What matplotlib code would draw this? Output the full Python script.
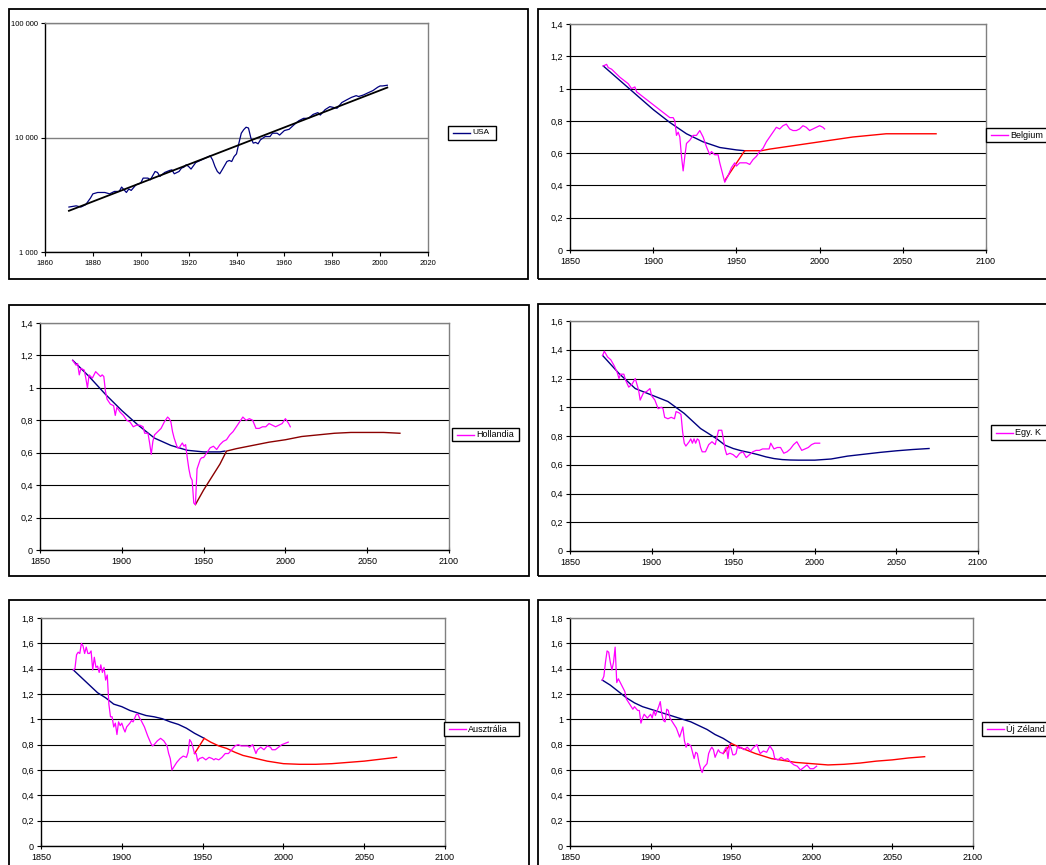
import matplotlib
matplotlib.use("Agg")
import matplotlib.pyplot as plt
from matplotlib.patches import Rectangle
from matplotlib.lines import Line2D
from matplotlib.ticker import FuncFormatter, FixedLocator

plt.rcParams['font.family'] = ['Liberation Sans', 'DejaVu Sans']

W, H = 1046, 865

# ---------------- DATA ----------------
# USA (log scale GDP per capita)
usa_years = [1870, 1873, 1875, 1877, 1879, 1880, 1882, 1885, 1887, 1889, 1891, 1892, 1894, 1895, 1896,
             1898, 1900, 1901, 1903, 1904, 1906, 1907, 1908, 1910, 1912, 1913, 1914, 1916, 1917, 1918,
             1919, 1920, 1921, 1923, 1926, 1929, 1930, 1931, 1932, 1933, 1934, 1936, 1937, 1938, 1939,
             1940, 1941, 1942, 1943, 1944, 1945, 1946, 1947, 1948, 1949, 1950, 1952, 1954, 1955, 1957,
             1958, 1960, 1962, 1964, 1966, 1968, 1970, 1972, 1974, 1975, 1977, 1979, 1980, 1982, 1984,
             1986, 1988, 1990, 1991, 1993, 1995, 1997, 1999, 2000, 2001, 2003]
usa_values = [2470, 2530, 2470, 2590, 2960, 3220, 3310, 3310, 3220, 3380, 3380, 3690, 3310, 3550, 3450,
              3860, 4000, 4420, 4420, 4270, 5050, 4950, 4570, 4950, 5150, 5220, 4820, 5050, 5400, 5500,
              5780, 5580, 5300, 6050, 6460, 6920, 6380, 5580, 5050, 4820, 5220, 6170, 6300, 6170, 6820,
              7200, 8930, 10900, 11700, 12300, 12100, 9900, 8930, 9060, 8810, 9540, 10200, 10200, 10900, 10900,
              10500, 11500, 11800, 12900, 14000, 14700, 14700, 15900, 16500, 15700, 17500, 18600, 18400, 18000, 20200,
              21300, 22400, 23200, 22800, 23500, 24600, 25700, 27500, 28200, 28200, 28600]
usa_trend_years = [1870, 2003]
usa_trend_values = [2290, 27300]

# Belgium
bel_years = [1870, 1872, 1873, 1875, 1880, 1885, 1887, 1889, 1890, 1895, 1900, 1905, 1910, 1912, 1913,
             1914, 1915, 1916, 1917, 1918, 1919, 1920, 1922, 1924, 1926, 1928, 1930, 1932, 1934, 1935,
             1937, 1939, 1940, 1942, 1943, 1945, 1947, 1949, 1950, 1952, 1954, 1956, 1958, 1960, 1962,
             1964, 1966, 1968, 1970, 1972, 1974, 1976, 1978, 1980, 1982, 1984, 1986, 1988, 1990, 1992,
             1994, 1996, 1998, 2000, 2002, 2003]
bel_values = [1.14, 1.15, 1.13, 1.12, 1.07, 1.03, 1.00, 1.01, 0.98, 0.94, 0.90, 0.86, 0.82, 0.82, 0.80,
              0.71, 0.73, 0.70, 0.58, 0.49, 0.58, 0.66, 0.68, 0.71, 0.71, 0.74, 0.70, 0.64, 0.59, 0.61,
              0.59, 0.59, 0.54, 0.46, 0.42, 0.46, 0.51, 0.54, 0.52, 0.54, 0.54, 0.54, 0.53, 0.56, 0.58,
              0.61, 0.63, 0.67, 0.70, 0.73, 0.76, 0.75, 0.77, 0.78, 0.75, 0.74, 0.74, 0.75, 0.77, 0.76,
              0.74, 0.75, 0.76, 0.77, 0.76, 0.75]
bel_trend_years = [1870, 1880, 1890, 1900, 1910, 1920, 1930, 1940, 1950, 1955]
bel_trend_values = [1.14, 1.05, 0.96, 0.87, 0.79, 0.72, 0.67, 0.635, 0.62, 0.615]
bel_proj_years = [1943, 1955, 1965, 1970, 1980, 1990, 2000, 2010, 2020, 2030, 2040, 2050, 2060, 2070]
bel_proj_values = [0.43, 0.615, 0.615, 0.625, 0.64, 0.655, 0.67, 0.685, 0.70, 0.71, 0.72, 0.72, 0.72, 0.72]

# Hollandia
nl_years = [1870, 1872, 1873, 1874, 1875, 1877, 1878, 1879, 1880, 1882, 1884, 1886, 1887, 1888, 1889,
            1890, 1891, 1893, 1895, 1896, 1897, 1899, 1901, 1903, 1905, 1907, 1909, 1911, 1913, 1914,
            1916, 1917, 1918, 1919, 1920, 1922, 1924, 1926, 1928, 1929, 1930, 1931, 1932, 1934, 1935,
            1937, 1938, 1939, 1940, 1941, 1942, 1943, 1944, 1945, 1946, 1947, 1948, 1949, 1950, 1952,
            1954, 1956, 1958, 1960, 1962, 1964, 1966, 1968, 1970, 1972, 1974, 1976, 1978, 1980, 1982,
            1984, 1986, 1988, 1990, 1992, 1994, 1996, 1998, 2000, 2002, 2003]
nl_values = [1.17, 1.14, 1.15, 1.08, 1.12, 1.11, 1.06, 1.00, 1.08, 1.06, 1.10, 1.08, 1.07, 1.08, 1.07,
             0.98, 0.93, 0.90, 0.89, 0.83, 0.88, 0.85, 0.83, 0.80, 0.79, 0.76, 0.77, 0.77, 0.76, 0.72,
             0.72, 0.66, 0.59, 0.67, 0.71, 0.73, 0.75, 0.79, 0.82, 0.81, 0.79, 0.73, 0.69, 0.63, 0.63,
             0.66, 0.64, 0.65, 0.57, 0.50, 0.45, 0.43, 0.29, 0.28, 0.50, 0.53, 0.56, 0.57, 0.57, 0.60,
             0.63, 0.64, 0.62, 0.65, 0.67, 0.68, 0.71, 0.73, 0.76, 0.79, 0.82, 0.80, 0.81, 0.80, 0.75,
             0.75, 0.76, 0.76, 0.78, 0.77, 0.76, 0.77, 0.78, 0.81, 0.78, 0.76]
nl_trend_years = [1870, 1880, 1890, 1900, 1910, 1920, 1930, 1940, 1950, 1960, 1963]
nl_trend_values = [1.17, 1.07, 0.96, 0.86, 0.77, 0.69, 0.645, 0.615, 0.605, 0.605, 0.61]
nl_proj_years = [1945, 1950, 1955, 1960, 1964, 1970, 1980, 1990, 2000, 2010, 2020, 2030, 2040, 2050, 2060, 2070]
nl_proj_values = [0.28, 0.37, 0.45, 0.53, 0.61, 0.625, 0.645, 0.665, 0.68, 0.70, 0.71, 0.72, 0.725, 0.725, 0.725, 0.72]

# Egyesült Királyság
uk_years = [1870, 1871, 1873, 1875, 1877, 1879, 1880, 1881, 1883, 1884, 1886, 1888, 1890, 1892, 1893,
            1895, 1897, 1899, 1900, 1902, 1904, 1906, 1907, 1908, 1910, 1912, 1914, 1915, 1917, 1918,
            1919, 1920, 1921, 1923, 1924, 1925, 1926, 1927, 1928, 1929, 1930, 1931, 1933, 1935, 1937,
            1939, 1941, 1943, 1944, 1945, 1946, 1948, 1950, 1952, 1954, 1956, 1958, 1960, 1962, 1964,
            1966, 1968, 1970, 1972, 1973, 1975, 1977, 1979, 1981, 1983, 1985, 1987, 1989, 1991, 1992,
            1994, 1996, 1998, 2000, 2002, 2003]
uk_values = [1.36, 1.39, 1.35, 1.33, 1.29, 1.24, 1.20, 1.23, 1.23, 1.19, 1.14, 1.16, 1.20, 1.12, 1.05,
             1.10, 1.11, 1.13, 1.08, 1.05, 0.99, 1.00, 0.99, 0.93, 0.92, 0.93, 0.92, 0.97, 0.96, 0.95,
             0.83, 0.75, 0.73, 0.76, 0.78, 0.75, 0.78, 0.75, 0.78, 0.77, 0.72, 0.69, 0.69, 0.74, 0.76,
             0.74, 0.84, 0.84, 0.78, 0.71, 0.67, 0.68, 0.67, 0.65, 0.68, 0.69, 0.65, 0.67, 0.69, 0.70,
             0.70, 0.71, 0.71, 0.71, 0.75, 0.71, 0.72, 0.72, 0.68, 0.69, 0.71, 0.74, 0.76, 0.72, 0.70,
             0.71, 0.72, 0.74, 0.75, 0.75, 0.75]
uk_trend_years = [1870, 1880, 1890, 1900, 1910, 1920, 1930, 1940, 1945, 1950, 1955, 1960, 1965, 1970,
                  1975, 1980, 1985, 1990, 2000, 2010, 2020, 2030, 2040, 2050, 2060, 2070]
uk_trend_values = [1.36, 1.235, 1.13, 1.085, 1.04, 0.957, 0.852, 0.78, 0.736, 0.713, 0.697, 0.685, 0.671, 0.655,
                   0.643, 0.636, 0.633, 0.632, 0.632, 0.64, 0.66, 0.673, 0.686, 0.697, 0.706, 0.713]

# Ausztrália
au_years = [1870, 1871, 1872, 1873, 1874, 1875, 1876, 1877, 1878, 1879, 1880, 1881, 1882, 1883, 1884,
            1885, 1886, 1887, 1888, 1889, 1890, 1891, 1892, 1893, 1894, 1895, 1896, 1897, 1898, 1899,
            1900, 1901, 1902, 1903, 1905, 1906, 1907, 1908, 1909, 1910, 1911, 1912, 1914, 1916, 1918,
            1919, 1920, 1922, 1924, 1926, 1928, 1929, 1930, 1931, 1932, 1934, 1936, 1938, 1940, 1941,
            1942, 1943, 1944, 1945, 1946, 1947, 1948, 1950, 1952, 1954, 1956, 1957, 1958, 1960, 1962,
            1964, 1966, 1968, 1970, 1972, 1974, 1976, 1978, 1979, 1981, 1983, 1984, 1986, 1988, 1990,
            1992, 1993, 1995, 1997, 1999, 2001, 2003]
au_values = [1.39, 1.40, 1.51, 1.53, 1.52, 1.60, 1.58, 1.52, 1.57, 1.52, 1.52, 1.54, 1.39, 1.49, 1.41,
             1.42, 1.37, 1.43, 1.37, 1.41, 1.31, 1.35, 1.12, 1.02, 1.02, 0.94, 0.97, 0.88, 0.98, 0.95,
             0.97, 0.93, 0.90, 0.94, 0.97, 0.99, 0.98, 1.01, 1.04, 1.04, 1.01, 0.99, 0.94, 0.87, 0.81,
             0.79, 0.80, 0.83, 0.85, 0.83, 0.79, 0.73, 0.69, 0.60, 0.62, 0.66, 0.69, 0.71, 0.70, 0.74,
             0.84, 0.82, 0.78, 0.73, 0.73, 0.67, 0.69, 0.70, 0.68, 0.70, 0.69, 0.68, 0.69, 0.68, 0.70,
             0.73, 0.73, 0.76, 0.79, 0.80, 0.79, 0.79, 0.79, 0.78, 0.80, 0.73, 0.76, 0.78, 0.76, 0.79,
             0.78, 0.76, 0.76, 0.78, 0.80, 0.81, 0.82]
au_trend_years = [1870, 1875, 1880, 1885, 1890, 1895, 1900, 1905, 1910, 1915, 1920, 1925, 1930, 1935,
                  1940, 1945, 1951]
au_trend_values = [1.39, 1.33, 1.27, 1.21, 1.17, 1.12, 1.10, 1.07, 1.05, 1.03, 1.02, 1.005, 0.98, 0.96,
                   0.93, 0.89, 0.85]
au_proj_years = [1945, 1951, 1955, 1960, 1965, 1970, 1975, 1980, 1985, 1990, 1995, 2000, 2010, 2020,
                 2030, 2040, 2050, 2060, 2070]
au_proj_values = [0.73, 0.85, 0.82, 0.79, 0.77, 0.74, 0.715, 0.70, 0.685, 0.67, 0.66, 0.65, 0.645, 0.645,
                  0.65, 0.66, 0.67, 0.685, 0.70]

# Új Zéland
nz_years = [1870, 1871, 1872, 1873, 1874, 1875, 1876, 1877, 1878, 1879, 1880, 1882, 1884, 1885, 1887,
            1889, 1890, 1892, 1893, 1894, 1895, 1896, 1898, 1900, 1901, 1902, 1903, 1905, 1906, 1907,
            1908, 1909, 1910, 1911, 1912, 1914, 1916, 1918, 1919, 1920, 1921, 1922, 1923, 1925, 1926,
            1927, 1928, 1929, 1930, 1931, 1932, 1933, 1935, 1936, 1937, 1938, 1939, 1940, 1941, 1942,
            1943, 1945, 1946, 1947, 1948, 1949, 1950, 1951, 1952, 1953, 1954, 1955, 1956, 1958, 1960,
            1962, 1964, 1966, 1967, 1968, 1970, 1972, 1974, 1976, 1977, 1979, 1981, 1983, 1985, 1987,
            1989, 1991, 1993, 1995, 1997, 1999, 2001, 2003]
nz_values = [1.31, 1.34, 1.45, 1.54, 1.53, 1.45, 1.39, 1.45, 1.57, 1.29, 1.32, 1.27, 1.22, 1.16, 1.12,
             1.08, 1.10, 1.07, 1.07, 0.97, 1.01, 1.04, 1.01, 1.04, 1.01, 1.07, 1.03, 1.10, 1.14, 1.04,
             0.99, 0.98, 1.08, 1.07, 1.01, 0.97, 0.93, 0.86, 0.90, 0.94, 0.83, 0.78, 0.81, 0.79, 0.74,
             0.69, 0.74, 0.73, 0.66, 0.61, 0.58, 0.62, 0.65, 0.73, 0.76, 0.78, 0.76, 0.70, 0.73, 0.76,
             0.74, 0.73, 0.76, 0.78, 0.69, 0.80, 0.77, 0.72, 0.72, 0.73, 0.79, 0.77, 0.78, 0.76, 0.78,
             0.75, 0.78, 0.80, 0.76, 0.73, 0.75, 0.74, 0.79, 0.75, 0.69, 0.68, 0.70, 0.68, 0.69, 0.66,
             0.64, 0.63, 0.60, 0.62, 0.64, 0.61, 0.61, 0.63]
nz_trend_years = [1870, 1875, 1880, 1885, 1890, 1895, 1900, 1905, 1910, 1915, 1920, 1925, 1930, 1935,
                  1940, 1945, 1950]
nz_trend_values = [1.31, 1.27, 1.22, 1.17, 1.13, 1.10, 1.08, 1.06, 1.04, 1.02, 1.00, 0.98, 0.95, 0.92,
                   0.88, 0.85, 0.81]
nz_proj_years = [1945, 1950, 1955, 1960, 1965, 1970, 1975, 1980, 1985, 1990, 1995, 2000, 2010, 2020,
                 2030, 2040, 2050, 2060, 2070]
nz_proj_values = [0.73, 0.81, 0.78, 0.755, 0.73, 0.71, 0.69, 0.68, 0.67, 0.66, 0.655, 0.65, 0.64, 0.645,
                  0.655, 0.67, 0.68, 0.695, 0.705]

PINK = '#FF00FF'
NAVY = '#000080'
RED = '#FF0000'
MAROON = '#8B0000'

fig = plt.figure(figsize=(W / 100, H / 100), dpi=100)
fig.patch.set_facecolor('white')


def frame(x0, y0, x1, y1):
    fig.patches.append(Rectangle((x0 / W, 1 - y1 / H), (x1 - x0) / W, (y1 - y0) / H,
                                 transform=fig.transFigure, fill=False, edgecolor='black',
                                 linewidth=1.3, clip_on=False))


def legend_box(x0, y0, x1, y1, color, label, fs):
    fig.patches.append(Rectangle((x0 / W, 1 - y1 / H), (x1 - x0) / W, (y1 - y0) / H,
                                 transform=fig.transFigure, facecolor='white', edgecolor='black',
                                 linewidth=1.0, clip_on=False))
    ym = 1 - (y0 + y1) / 2 / H
    fig.lines.append(Line2D([(x0 + 5) / W, (x0 + 22) / W], [ym, ym], transform=fig.transFigure,
                            color=color, linewidth=1.0))
    fig.text((x0 + 24) / W, ym, label, fontsize=fs, va='center', ha='left')


def make_axes(x0, y0, x1, y1):
    ax = fig.add_axes([x0 / W, 1 - y1 / H, (x1 - x0) / W, (y1 - y0) / H])
    ax.set_facecolor('white')
    for s in ['top', 'right']:
        ax.spines[s].set_color('#808080')
        ax.spines[s].set_linewidth(1.0)
    for s in ['left', 'bottom']:
        ax.spines[s].set_color('black')
        ax.spines[s].set_linewidth(1.0)
    return ax


comma = FuncFormatter(lambda v, p: ('%g' % round(v, 1)).replace('.', ','))


def lin_panel(box, ymax, fs):
    ax = make_axes(*box)
    ax.set_xlim(1850, 2100)
    ax.set_ylim(0, ymax)
    ax.xaxis.set_major_locator(FixedLocator(list(range(1850, 2101, 50))))
    ax.yaxis.set_major_locator(FixedLocator([round(i * 0.2, 1) for i in range(int(round(ymax / 0.2)) + 1)]))
    ax.yaxis.set_major_formatter(comma)
    ax.grid(axis='y', color='black', linewidth=0.8)
    ax.set_axisbelow(True)
    ax.tick_params(axis='y', direction='out', length=3, width=0.8, labelsize=fs, pad=2)
    ax.tick_params(axis='x', direction='inout', length=4, width=0.8, labelsize=fs, pad=3)
    return ax


# ---- Panel 1: USA ----
frame(9, 9, 528, 279)
ax1 = make_axes(45, 23, 428, 252)
ax1.set_yscale('log')
ax1.set_xlim(1860, 2020)
ax1.set_ylim(1000, 100000)
ax1.xaxis.set_major_locator(FixedLocator(list(range(1860, 2021, 20))))
ax1.yaxis.set_major_locator(FixedLocator([1000, 10000, 100000]))
ax1.yaxis.set_minor_locator(FixedLocator([]))
ax1.yaxis.set_major_formatter(FuncFormatter(lambda v, p: '{:,}'.format(int(round(v))).replace(',', ' ')))
ax1.grid(axis='y', color='#808080', linewidth=1.0)
ax1.set_axisbelow(True)
ax1.tick_params(axis='y', direction='out', length=3, width=0.8, labelsize=5.5, pad=2)
ax1.tick_params(axis='x', direction='out', length=3, width=0.8, labelsize=5.5, pad=3)
ax1.plot(usa_years, usa_values, color=NAVY, linewidth=0.9)
ax1.plot(usa_trend_years, usa_trend_values, color='black', linewidth=1.3)
legend_box(448, 126, 496, 140, NAVY, 'USA', 6)

# ---- Panel 2: Belgium ----
frame(538, 9, 1050, 279)
ax2 = lin_panel((570, 24, 986, 250), 1.4, 6.5)
ax2.plot(bel_trend_years, bel_trend_values, color=NAVY, linewidth=1.0)
ax2.plot(bel_proj_years, bel_proj_values, color=RED, linewidth=1.0)
ax2.plot(bel_years, bel_values, color=PINK, linewidth=0.9)
legend_box(986, 128, 1050, 142, PINK, 'Belgium', 6.5)

# ---- Panel 3: Hollandia ----
frame(9, 305, 529, 576)
ax3 = lin_panel((40, 323, 449, 550), 1.4, 6.5)
ax3.plot(nl_trend_years, nl_trend_values, color=NAVY, linewidth=1.0)
ax3.plot(nl_proj_years, nl_proj_values, color=MAROON, linewidth=1.0)
ax3.plot(nl_years, nl_values, color=PINK, linewidth=0.9)
legend_box(452, 428, 519, 441, PINK, 'Hollandia', 6.5)

# ---- Panel 4: Egy. K ----
frame(538, 304, 1050, 576)
ax4 = lin_panel((570, 321, 978, 551), 1.6, 6.5)
ax4.plot(uk_trend_years, uk_trend_values, color=NAVY, linewidth=1.0)
ax4.plot(uk_years, uk_values, color=PINK, linewidth=0.9)
legend_box(991, 425, 1056, 440, PINK, 'Egy. K', 6.5)

# ---- Panel 5: Ausztrália ----
frame(9, 600, 529, 870)
ax5 = lin_panel((41, 618, 445, 846), 1.8, 6.5)
ax5.plot(au_trend_years, au_trend_values, color=NAVY, linewidth=1.0)
ax5.plot(au_proj_years, au_proj_values, color=RED, linewidth=1.0)
ax5.plot(au_years, au_values, color=PINK, linewidth=0.9)
legend_box(444, 722, 519, 736, PINK, 'Ausztrália', 6.5)

# ---- Panel 6: Új Zéland ----
frame(538, 600, 1050, 870)
ax6 = lin_panel((570, 618, 973, 846), 1.8, 6.5)
ax6.plot(nz_trend_years, nz_trend_values, color=NAVY, linewidth=1.0)
ax6.plot(nz_proj_years, nz_proj_values, color=RED, linewidth=1.0)
ax6.plot(nz_years, nz_values, color=PINK, linewidth=0.9)
legend_box(982, 722, 1050, 736, PINK, 'Új Zéland', 6.5)

fig.savefig('out.png', dpi=100)
